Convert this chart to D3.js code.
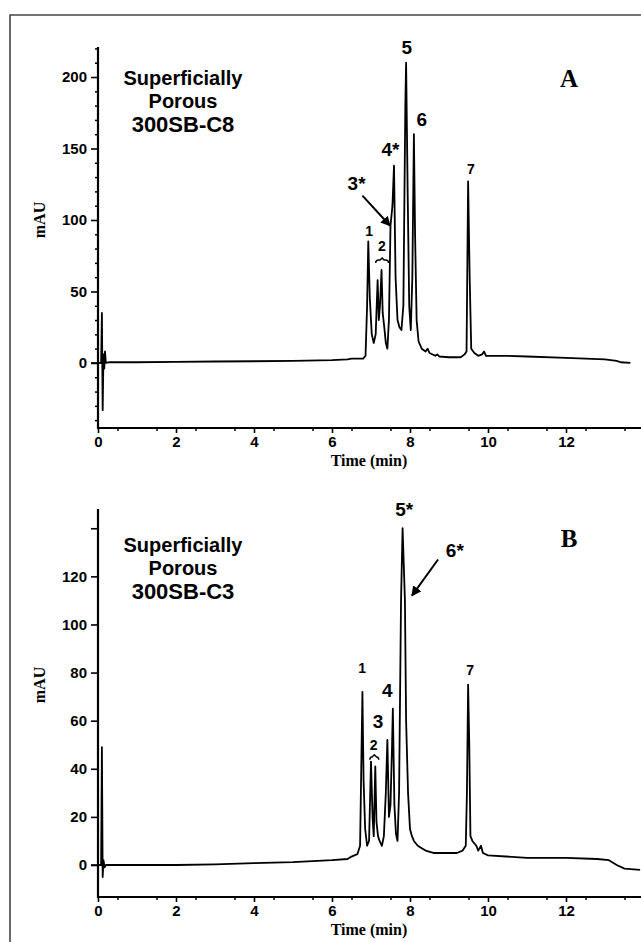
<!DOCTYPE html>
<html>
<head>
<meta charset="utf-8">
<script src="https://cdn.jsdelivr.net/npm/d3@7"></script>
<style>
  body { margin: 0; background: #fff; }
  svg { display: block; }
  .tick-lab { font-family: "Liberation Sans", Arial, sans-serif; font-weight: bold; font-size: 15px; }
  .ax-title { font-family: "Liberation Serif", "Times New Roman", serif; font-weight: bold; font-size: 16px; }
  .peak { font-family: "Liberation Sans", Arial, sans-serif; font-weight: bold; }
  .col { font-family: "Liberation Sans", Arial, sans-serif; font-weight: bold; }
  .panel { font-family: "Liberation Serif", "Times New Roman", serif; font-weight: bold; font-size: 25px; }
</style>
</head>
<body>
<div id="chart"></div>
<script>
// tick values
const timeTicks = [0, 2, 4, 6, 8, 10, 12]
const aTicks = [0, 50, 100, 150, 200]
const bTicks = [0, 20, 40, 60, 80, 100, 120, 140]
const bTickLabels = ["0", "20", "40", "60", "80", "100", "120", ""]

// panel A trace, 300SB-C8 (time in min, signal in mAU)
const aTime = [0, 0.08, 0.1, 0.12, 0.14, 0.16, 0.18, 0.2, 0.3, 1, 2, 3, 4, 5, 6, 6.4, 6.5, 6.8, 6.86,
    6.9, 6.93, 6.97, 7.02, 7.07, 7.12, 7.17, 7.2, 7.23, 7.27, 7.3, 7.34, 7.38, 7.42, 7.46, 7.5, 7.55,
    7.59, 7.63, 7.68, 7.73, 7.78, 7.83, 7.88, 7.9, 7.94, 7.98, 8.02, 8.06, 8.1, 8.13, 8.17, 8.22, 8.3,
    8.4, 8.45, 8.5, 8.65, 8.7, 8.75, 9.0, 9.3, 9.4, 9.45, 9.49, 9.53, 9.57, 9.65, 9.75, 9.85, 9.9,
    9.95, 10.5, 11, 12, 13, 13.3, 13.4, 13.65]
const aSignal = [0, 0, 35, -33, 6, -4, 8, 0, 0.5, 0.5, 0.8, 1, 1.2, 1.5, 2, 2.5, 3, 3, 5,
    40, 85, 45, 20, 14, 20, 58, 30, 40, 65, 35, 25, 14, 10, 30, 96, 110,
    138, 60, 30, 25, 23, 40, 180, 210, 120, 40, 23, 60, 160, 90, 30, 15, 10,
    8, 10, 7, 5, 6, 4.5, 4, 4, 6, 8, 127, 60, 10, 7, 5, 6, 8,
    5, 5, 4.5, 3.5, 2.5, 1.5, 0.5, 0]

// panel B trace, 300SB-C3
const bTime = [0, 0.08, 0.1, 0.12, 0.14, 0.17, 0.2, 1, 2, 3, 4, 5, 6, 6.4, 6.5, 6.65, 6.72, 6.75,
    6.78, 6.81, 6.85, 6.9, 6.95, 7.0, 7.04, 7.07, 7.11, 7.14, 7.18, 7.22, 7.28, 7.33, 7.38, 7.42,
    7.46, 7.5, 7.54, 7.56, 7.6, 7.64, 7.68, 7.72, 7.77, 7.81, 7.84, 7.87, 7.9, 7.95, 8.0, 8.05, 8.1,
    8.2, 8.3, 8.4, 8.6, 9.0, 9.2, 9.35, 9.43, 9.46, 9.49, 9.52, 9.55, 9.6, 9.7, 9.75, 9.82, 9.87,
    10, 11, 12, 12.8, 13.1, 13.3, 13.5, 13.9]
const bSignal = [0, 0, 49, -5, 2, -1, 0, 0, 0, 0.3, 0.8, 1.2, 2, 2.5, 3.5, 4.5, 8, 40,
    72, 35, 15, 8, 10, 43, 20, 12, 41, 18, 12, 10, 8, 12, 30, 52,
    20, 25, 50, 65, 25, 13, 10, 30, 110, 140, 125, 110, 60, 30, 15, 12, 10,
    8, 7, 6, 5, 5, 5, 6, 8, 30, 75, 50, 12, 10, 8, 6, 8, 5,
    4, 3, 3, 2.5, 2, 0, -1.5, -2]

// peak labels, anchored at (time, mAU)
const aPeaks = [
    {text: "1", t: 6.95, v: 89, size: 14},
    {text: "2", t: 7.28, v: 78, size: 14},
    {text: "3*", t: 6.63, v: 121, size: 19},
    {text: "4*", t: 7.5, v: 145, size: 19},
    {text: "5", t: 7.92, v: 216, size: 19},
    {text: "6", t: 8.3, v: 166, size: 19},
    {text: "7", t: 9.56, v: 132, size: 14}
]
const bPeaks = [
    {text: "1", t: 6.77, v: 80, size: 14},
    {text: "2", t: 7.07, v: 48, size: 14},
    {text: "3", t: 7.18, v: 57, size: 19},
    {text: "4", t: 7.42, v: 70, size: 19},
    {text: "5*", t: 7.85, v: 145, size: 19},
    {text: "6*", t: 9.15, v: 128, size: 19},
    {text: "7", t: 9.54, v: 79, size: 14}
]
// bracket under the "2" label: [t0, t1, mAU]
const aBrace = [7.12, 7.45, 72]
const bBrace = [6.97, 7.2, 45]
// arrows: [tFrom, vFrom, tTo, vTo]
const aArrow = [6.78, 117, 7.49, 96]
const bArrow = [8.72, 127, 8.05, 112]

const width = 641, height = 942

const svg = d3.select("#chart").append("svg")
    .attr("width", width)
    .attr("height", height)

// outer frame, cropped at right and bottom
svg.append("path")
    .attr("d", `M${width + 5},15 H10 V${height + 5}`)
    .attr("fill", "none")
    .attr("stroke", "#444")
    .attr("stroke-width", 1.6)

svg.append("defs").append("marker")
    .attr("id", "head")
    .attr("viewBox", "0 0 10 10")
    .attr("refX", 9).attr("refY", 5)
    .attr("markerWidth", 5).attr("markerHeight", 5)
    .attr("orient", "auto")
    .append("path")
    .attr("d", "M0,0 L10,5 L0,10 z")
    .attr("fill", "#000")

function drawPanel(cfg) {
    const g = svg.append("g")
    const x = d3.scaleLinear().domain([0, 14]).range([98, 644])
    const y = d3.scaleLinear().domain(cfg.yDomain).range(cfg.yRange)
    const x0 = x.range()[0], yb = cfg.yRange[0]

    // y axis
    const yAxis = d3.axisLeft(y).tickValues(cfg.yTicks).tickSize(7).tickPadding(4)
        .tickFormat((d, i) => cfg.yLabels ? cfg.yLabels[i] : d)
    g.append("g").attr("transform", `translate(${x0},0)`).call(yAxis)
        .call(a => a.select(".domain").remove())
        .call(a => a.selectAll("line").attr("stroke-width", 1.6))
        .call(a => a.selectAll("text").attr("class", "tick-lab").attr("font-size", null).attr("font-family", null))
    if (cfg.yMinor) {
        g.append("g").attr("transform", `translate(${x0},0)`)
            .call(d3.axisLeft(y).tickValues(cfg.yMinor).tickSize(3).tickFormat(""))
            .call(a => a.select(".domain").remove())
            .call(a => a.selectAll("line").attr("stroke-width", 1.5))
    }

    // x axis
    g.append("g").attr("transform", `translate(0,${yb})`)
        .call(d3.axisBottom(x).tickValues(timeTicks).tickSize(5).tickPadding(3))
        .call(a => a.select(".domain").remove())
        .call(a => a.selectAll("line").attr("stroke-width", 1.6))
        .call(a => a.selectAll("text").attr("class", "tick-lab").attr("font-size", null).attr("font-family", null))
    g.append("g").attr("transform", `translate(0,${yb})`)
        .call(d3.axisBottom(x).tickValues(d3.range(0.5, 14, 1)).tickSize(3).tickFormat(""))
        .call(a => a.select(".domain").remove())
        .call(a => a.selectAll("line").attr("stroke-width", 1.5))

    // axis lines drawn thick
    g.append("path")
        .attr("d", `M${x0},${cfg.yRange[1]} V${yb} H${width + 5}`)
        .attr("fill", "none").attr("stroke", "#000").attr("stroke-width", 2.2)

    // zero reference tick crossing the axis
    g.append("line")
        .attr("x1", x0 - 7).attr("x2", x0 + 4)
        .attr("y1", y(0)).attr("y2", y(0))
        .attr("stroke", "#000").attr("stroke-width", 1.6)

    // titles
    g.append("text").attr("class", "ax-title")
        .attr("transform", `translate(45,${cfg.mauY}) rotate(-90)`)
        .attr("text-anchor", "middle").text("mAU")
    g.append("text").attr("class", "ax-title")
        .attr("x", 369).attr("y", yb + 38)
        .attr("text-anchor", "middle").text("Time (min)")

    // trace
    const line = d3.line().x(d => x(d[0])).y(d => y(d[1]))
    g.append("path")
        .datum(d3.zip(cfg.time, cfg.signal))
        .attr("d", line)
        .attr("fill", "none")
        .attr("stroke", "#000")
        .attr("stroke-width", 1.8)
        .attr("stroke-linejoin", "round")

    // column name
    const col = g.append("text").attr("class", "col").attr("text-anchor", "middle")
    col.append("tspan").attr("x", 183).attr("y", cfg.colY).attr("font-size", 20).text("Superficially")
    col.append("tspan").attr("x", 183).attr("dy", 23).attr("font-size", 20).text("Porous")
    col.append("tspan").attr("x", 183).attr("dy", 24).attr("font-size", 22).text(cfg.column)

    g.append("text").attr("class", "panel")
        .attr("x", 569).attr("y", cfg.letterY)
        .attr("text-anchor", "middle").text(cfg.letter)

    // peak labels
    g.selectAll(".peak").data(cfg.peaks).join("text")
        .attr("class", "peak")
        .attr("x", d => x(d.t)).attr("y", d => y(d.v))
        .attr("text-anchor", "middle")
        .attr("font-size", d => d.size)
        .text(d => d.text)

    // brace under label 2
    const [b0, b1, bv] = cfg.brace
    const bx0 = x(b0), bx1 = x(b1), by = y(bv), bm = (bx0 + bx1) / 2
    g.append("path")
        .attr("d", `M${bx0},${by + 3} Q${bx0},${by} ${bx0 + 3},${by} H${bm - 2} L${bm},${by - 2} L${bm + 2},${by} H${bx1 - 3} Q${bx1},${by} ${bx1},${by + 3}`)
        .attr("fill", "none").attr("stroke", "#000").attr("stroke-width", 1.4)

    // arrow
    const ar = cfg.arrow
    g.append("line")
        .attr("x1", x(ar[0])).attr("y1", y(ar[1]))
        .attr("x2", x(ar[2])).attr("y2", y(ar[3]))
        .attr("stroke", "#000").attr("stroke-width", 2)
        .attr("marker-end", "url(#head)")
}

drawPanel({
    time: aTime, signal: aSignal,
    yDomain: [-45.5, 221], yRange: [428, 47],
    yTicks: aTicks, yMinor: d3.range(-40, 221, 10).filter(v => v % 50 !== 0),
    mauY: 220, colY: 85, column: "300SB-C8", letter: "A", letterY: 87,
    peaks: aPeaks, brace: aBrace, arrow: aArrow
})

drawPanel({
    time: bTime, signal: bSignal,
    yDomain: [-13.3, 148], yRange: [897, 509],
    yTicks: bTicks, yLabels: bTickLabels,
    mauY: 685, colY: 552, column: "300SB-C3", letter: "B", letterY: 547,
    peaks: bPeaks, brace: bBrace, arrow: bArrow
})
</script>
</body>
</html>
